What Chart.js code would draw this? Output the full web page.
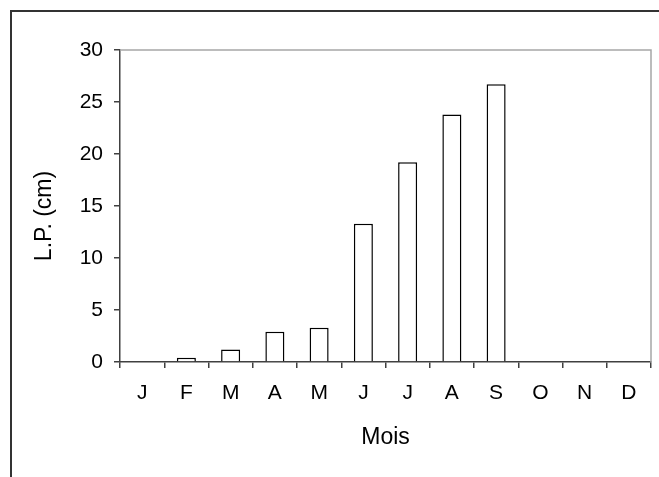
<!DOCTYPE html>
<html>
<head>
<meta charset="utf-8">
<script src="https://cdn.jsdelivr.net/npm/chart.js@4"></script>
<style>
  html, body { margin: 0; padding: 0; background: #fff; }
  #wrap { width: 659px; height: 477px; position: relative; }
</style>
</head>
<body>
<div id="wrap"><canvas id="c" width="659" height="477"></canvas></div>
<script>
const months = ['J','F','M','A','M','J','J','A','S','O','N','D'];
const lpValues = [null, 0.4, 1.2, 2.9, 3.3, 13.3, 19.2, 23.8, 26.7, null, null, null];
const yTicks = [0, 5, 10, 15, 20, 25, 30];
const yTitle = 'L.P. (cm)';
const xTitle = 'Mois';

const FONT = 'Arial, "Liberation Sans", sans-serif';

const framePlugin = {
  id: 'frame',
  beforeDraw(chart) {
    const ctx = chart.ctx;
    ctx.save();
    ctx.fillStyle = '#fff';
    ctx.fillRect(0, 0, chart.width, chart.height);
    ctx.strokeStyle = '#333';
    ctx.lineWidth = 2;
    ctx.beginPath();
    ctx.moveTo(11, chart.height);
    ctx.lineTo(11, 11);
    ctx.lineTo(chart.width, 11);
    ctx.stroke();
    ctx.restore();
  },
  afterDatasetsDraw(chart) {
    const a = chart.chartArea;
    const ctx = chart.ctx;
    ctx.save();
    ctx.strokeStyle = '#a6a6a6';
    ctx.lineWidth = 1.5;
    ctx.beginPath();
    ctx.moveTo(a.left, a.top);
    ctx.lineTo(a.right, a.top);
    ctx.lineTo(a.right, a.bottom);
    ctx.stroke();
    // y axis title, placed slightly below the plot centre as in the reference
    ctx.translate(45, (a.top + a.bottom) / 2 + 10);
    ctx.rotate(-Math.PI / 2);
    ctx.fillStyle = '#000';
    ctx.font = '23px ' + FONT;
    ctx.textAlign = 'center';
    ctx.textBaseline = 'middle';
    ctx.fillText(yTitle, 0, 0);
    ctx.restore();
  }
};

new Chart(document.getElementById('c'), {
  type: 'bar',
  data: {
    labels: months,
    datasets: [{
      data: lpValues,
      backgroundColor: '#ffffff',
      borderColor: '#000000',
      borderWidth: 1.5,
      categoryPercentage: 1,
      barPercentage: 0.43
    }]
  },
  options: {
    responsive: false,
    animation: false,
    devicePixelRatio: 1,
    layout: { padding: { left: 0, right: 8, top: 50, bottom: 0 } },
    plugins: { legend: { display: false }, tooltip: { enabled: false } },
    scales: {
      x: {
        offset: true,
        grid: { offset: true, drawOnChartArea: false, drawTicks: true, tickLength: 6, color: '#404040', lineWidth: 1.5 },
        border: { display: true, color: '#404040', width: 1.5 },
        ticks: { color: '#000', font: { family: FONT, size: 21 }, padding: 13, maxRotation: 0, autoSkip: false },
        title: { display: true, text: xTitle, color: '#000', font: { family: FONT, size: 23 }, padding: { top: 0, bottom: 26 } },
        afterFit(s) { s.height = 115; }
      },
      y: {
        min: 0, max: 30,
        afterBuildTicks(s) { s.ticks = yTicks.map(v => ({ value: v })); },
        grid: { drawOnChartArea: false, drawTicks: true, tickLength: 6, color: '#404040', lineWidth: 1.5 },
        border: { display: true, color: '#404040', width: 1.5 },
        ticks: { color: '#000', font: { family: FONT, size: 21 }, padding: 11 },
        title: { display: false, text: yTitle },
        afterFit(s) { s.width = 120; }
      }
    }
  },
  plugins: [framePlugin]
});
</script>
</body>
</html>
